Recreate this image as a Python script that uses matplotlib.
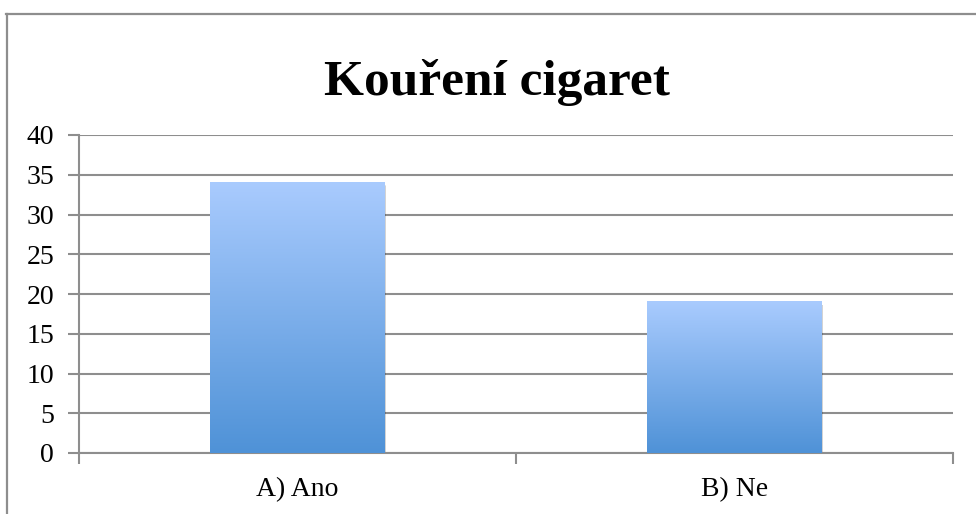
import numpy as np
import matplotlib
matplotlib.use('Agg')
import matplotlib.pyplot as plt
from matplotlib.colors import LinearSegmentedColormap
from matplotlib.lines import Line2D

categories = ['A) Ano', 'B) Ne']
values = [34, 19]
yticks = [0, 5, 10, 15, 20, 25, 30, 35, 40]
title = 'Kouření cigaret'

grey = '#8e8e8e'
cmap = LinearSegmentedColormap.from_list('bar', ['#4f92d7', '#a9cbfe'])

fig = plt.figure(figsize=(9.76, 5.14), dpi=100)
ax = fig.add_axes([79 / 976, 1 - 453 / 514, (953 - 79) / 976, (453 - 135) / 514])

# frame of the chart area (runs off the right and bottom)
fig.add_artist(Line2D([6.5 / 976, 6.5 / 976], [0, 1 - 13.5 / 514], color=grey, lw=1.6))
fig.add_artist(Line2D([6 / 976, 1], [1 - 13.5 / 514, 1 - 13.5 / 514], color=grey, lw=1.6))

x = np.arange(len(categories))
bars = ax.bar(x, values, width=0.4, color='none', zorder=3)

grad = np.linspace(0, 1, 256).reshape(-1, 1)
for b in bars:
    x0, w, h = b.get_x(), b.get_width(), b.get_height()
    # soft shadow
    for k, a in [(0.012, 0.08), (0.008, 0.10), (0.004, 0.12)]:
        ax.add_patch(plt.Rectangle((x0 + k * 0.3, -0.25 - k * 10), w, h, color='black',
                                   alpha=a, lw=0, zorder=2.5))
    ax.imshow(grad, extent=(x0, x0 + w, 0, h), origin='lower', cmap=cmap,
              aspect='auto', zorder=3, interpolation='bicubic')

ax.set_xlim(-0.5, 1.5)
ax.set_ylim(0, 40)
ax.set_yticks(yticks)
ax.set_yticklabels([str(t) for t in yticks], family='Liberation Serif', fontsize=20)
ax.yaxis.grid(True, color=grey, lw=1.5, zorder=1)
ax.set_axisbelow(True)

ax.set_xticks([-0.5, 0.5, 1.5])
ax.set_xticklabels([])
ax.set_xticks(x, minor=True)
ax.set_xticklabels(categories, minor=True, family='Liberation Serif', fontsize=20)
ax.tick_params(axis='x', which='major', length=8, width=1.5, color=grey, direction='out')
ax.tick_params(axis='x', which='minor', length=0, pad=17)
ax.tick_params(axis='y', length=8, width=1.5, color=grey, pad=10)

for s in ['top', 'right']:
    ax.spines[s].set_visible(False)
ax.spines['left'].set_color(grey)
ax.spines['left'].set_linewidth(1.5)
ax.spines['bottom'].set_color(grey)
ax.spines['bottom'].set_linewidth(1.5)

fig.text(497 / 976, 1 - 95 / 514, title, ha='center', va='baseline',
         family='Liberation Serif', fontweight='bold', fontsize=37)

fig.savefig('out.png', dpi=100)
